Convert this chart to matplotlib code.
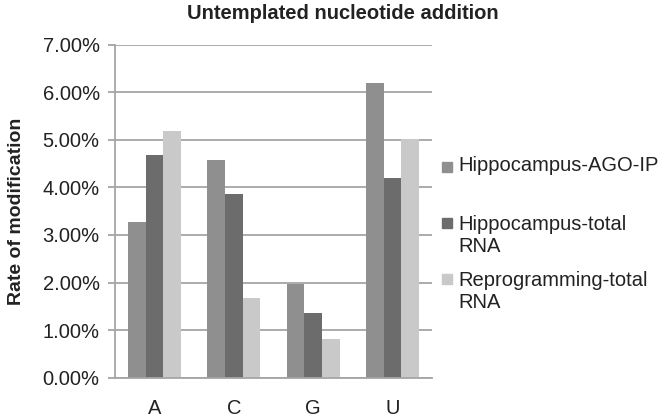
import numpy as np
from matplotlib import pyplot as plt
from matplotlib.patches import Rectangle
from matplotlib.ticker import PercentFormatter

plt.rcParams["font.family"] = ["Liberation Sans", "DejaVu Sans"]

# data (percent)
bases = ["A", "C", "G", "U"]
ago_ip = [3.27, 4.58, 1.98, 6.19]
hippo_total = [4.69, 3.86, 1.36, 4.20]
reprog_total = [5.19, 1.68, 0.81, 5.01]

series = ["Hippocampus-AGO-IP", "Hippocampus-total\nRNA", "Reprogramming-total\nRNA"]
colors = ["#8f8f8f", "#6c6c6c", "#c9c9c9"]
grid_c = "#a5a5a5"

fig = plt.figure(figsize=(6.67, 4.2), dpi=100)
ax = fig.add_axes([0.1724, 0.1007, 0.4753, 0.7929])

x = np.arange(len(bases))
w = 1 / 4.5
for i, vals in enumerate([ago_ip, hippo_total, reprog_total]):
	ax.bar(x + (i - 1) * w, vals, w, color=colors[i], zorder=3)

ax.set_xlim(-0.5, len(bases) - 0.5)
ax.set_ylim(0, 7)
ax.set_yticks(np.arange(0, 8, 1))
ax.yaxis.set_major_formatter(PercentFormatter(decimals=2))
ax.set_xticks(x, labels=bases)
ax.grid(True, "major", "y", color=grid_c, lw=1.3, zorder=0)

for s in ["top", "right"]:
	ax.spines[s].set_visible(False)
for s in ["left", "bottom"]:
	ax.spines[s].set_color(grid_c)
	ax.spines[s].set_linewidth(1.3)
	ax.spines[s].set_zorder(4)

ax.tick_params(axis="y", length=5, width=1.3, color=grid_c, labelsize=14.5, labelcolor="#222222", pad=6)
ax.tick_params(axis="x", length=0, labelsize=14.5, labelcolor="#222222", pad=15)

ax.set_ylabel("Rate of modification", fontsize=14, fontweight="bold", color="#222222", labelpad=13)
fig.text(0.514, 0.968, "Untemplated nucleotide addition", ha="center", va="center",
		fontsize=14.5, fontweight="bold", color="#222222")

# legend, text aligned with marker on the first line like the original
leg_y = [0.603, 0.470, 0.336]
for name, c, y in zip(series, colors, leg_y):
	fig.add_artist(Rectangle((0.662, y - 0.012), 0.016, 0.024, color=c, transform=fig.transFigure))
	if "\n" in name:
		fig.text(0.687, y + 0.018, name, ha="left", va="top", fontsize=14.5,
				color="#222222", linespacing=1.2)
	else:
		fig.text(0.687, y + 0.002, name, ha="left", va="center", fontsize=14.5,
				color="#222222")

fig.savefig("out.png", dpi=100)
plt.close()
